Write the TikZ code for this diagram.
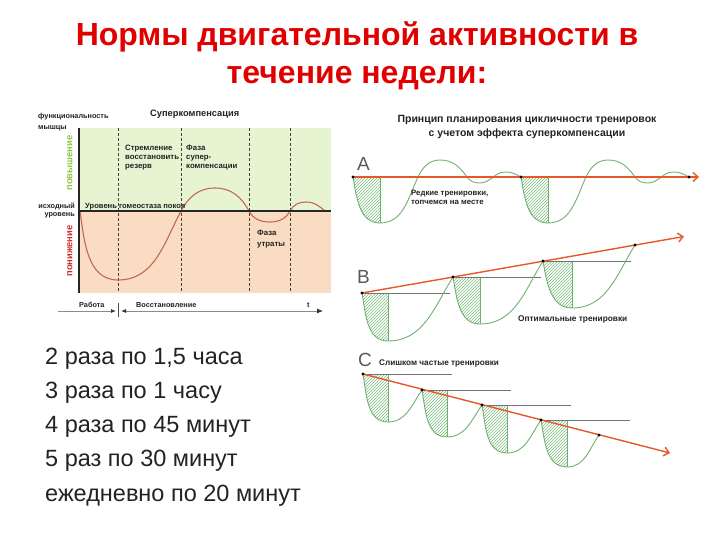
\documentclass[tikz,border=0pt]{standalone}
\usepackage{fontspec}
\setmainfont{Liberation Sans}
\usetikzlibrary{patterns,arrows.meta}
\definecolor{titlered}{HTML}{E00000}
\definecolor{bggreen}{HTML}{E6F4D2}
\definecolor{bgpeach}{HTML}{F9DCC2}
\definecolor{curvered}{HTML}{C4665A}
\definecolor{upgreen}{HTML}{8CC63F}
\definecolor{downred}{HTML}{CF2E2E}
\definecolor{gcurve}{HTML}{6FB06F}
\definecolor{hatchg}{HTML}{7DB87D}
\definecolor{orangeline}{HTML}{E8572A}
\definecolor{txt}{HTML}{222222}
\begin{document}
\begin{tikzpicture}[x=1pt,y=1pt,
  title/.style={font=\fontsize{32}{36}\selectfont\bfseries, text=titlered, inner sep=0pt, anchor=base},
  item/.style={font=\fontsize{23.5}{27}\selectfont, text=txt, inner sep=0pt, anchor=base west},
  small/.style={font=\fontsize{7.3}{9}\selectfont\bfseries, text=txt, inner sep=0pt, anchor=base west},
  mid/.style={font=\fontsize{9.3}{11}\selectfont\bfseries, text=txt, inner sep=0pt, anchor=base},
  letter/.style={font=\fontsize{19}{22}\selectfont, text=black!65, inner sep=0pt, anchor=base west},
  dashline/.style={densely dashed, black!75, line width=0.6pt},
  gline/.style={gcurve, line width=0.9pt},
  hatch/.style={pattern=north east lines, pattern color=hatchg},
  grayl/.style={black!55, line width=0.5pt},
  oline/.style={orangeline, line width=1.4pt},
  dot/.style={fill=black}
]
\useasboundingbox (0,0) rectangle (720,-540);

% ---------- title ----------
\node[title] (title1) at (357,-46) {Нормы двигательной активности в};
\node[title] (title2) at (357,-84) {течение недели:};

% ---------- list ----------
\node[item] (i1) at (45,-364) {2 раза по 1,5 часа};
\node[item] (i2) at (45,-398) {3 раза по 1 часу};
\node[item] (i3) at (45,-432) {4 раза по 45 минут};
\node[item] (i4) at (45,-466) {5 раз по 30 минут};
\node[item] (i5) at (45,-501) {ежедневно по 20 минут};

% ---------- left chart ----------
\fill[bggreen] (79,-128) rectangle (331,-211);
\fill[bgpeach] (79,-211) rectangle (331,-293);
\foreach \x in {118,181,249,290} \draw[dashline] (\x,-128) -- (\x,-293);
\draw[curvered, line width=1.1pt] (80,-211) to[out=-82,in=180] (118,-280) to[out=0,in=-118] (181,-211)
  to[out=62,in=180] (215,-188) to[out=0,in=118] (249,-211) to[out=-62,in=180] (270,-222)
  to[out=0,in=-118] (290,-211) to[out=62,in=180] (306,-202) to[out=0,in=140] (325,-211);
\draw[black!85, line width=2.4pt] (79,-211) -- (331,-211);
\draw[black!85, line width=2.4pt] (79,-128) -- (79,-293);

\node[small] (f1) at (38,-119) {функциональность};
\node[small] (f2) at (38,-130) {мышцы};
\node[mid, anchor=base west] (sk) at (150,-117) {Суперкомпенсация};
\node[small, font=\fontsize{7.8}{9}\selectfont\bfseries] (s1) at (125,-151) {Стремление};
\node[small, font=\fontsize{7.8}{9}\selectfont\bfseries] (s2) at (125,-160) {восстановить};
\node[small, font=\fontsize{7.8}{9}\selectfont\bfseries] (s3) at (125,-169) {резерв};
\node[small, font=\fontsize{7.8}{9}\selectfont\bfseries] (p1) at (186,-151) {Фаза};
\node[small, font=\fontsize{7.8}{9}\selectfont\bfseries] (p2) at (186,-160) {супер-};
\node[small, font=\fontsize{7.8}{9}\selectfont\bfseries] (p3) at (186,-169) {компенсации};
\node[small, font=\fontsize{7.8}{9}\selectfont\bfseries] (u1) at (257,-236) {Фаза};
\node[small, font=\fontsize{7.8}{9}\selectfont\bfseries] (u2) at (257,-246) {утраты};
\node[small, font=\fontsize{7.6}{9}\selectfont\bfseries] (hom) at (85,-208) {Уровень гомеостаза покоя};
\node[small, anchor=base east] (ish1) at (75,-209) {исходный};
\node[small, anchor=base east] (ish2) at (75,-217) {уровень};
\node[small, font=\fontsize{9.4}{10}\selectfont\bfseries, text=upgreen, rotate=90, anchor=center] (up) at (70,-163) {повышение};
\node[small, font=\fontsize{9.4}{10}\selectfont\bfseries, text=downred, rotate=90, anchor=center] (down) at (70,-251) {понижение};

\node[small] (rab) at (79,-307) {Работа};
\node[small] (vos) at (136,-307) {Восстановление};
\node[small] (tt) at (307,-307) {t};
\coordinate (ax0) at (58,-311);
\coordinate (axm1) at (116,-311);
\coordinate (axm2) at (121,-311);
\coordinate (ax1) at (323,-311);
\draw[black!45, line width=0.8pt, -{Latex[length=5pt,width=4pt,black!80]}] (ax0) -- (axm1);
\draw[black!45, line width=0.8pt, {Latex[length=5pt,width=4pt,black!80]}-{Latex[length=6pt,width=5pt,black!80]}] (axm2) -- (ax1);
\draw[black!70, line width=0.6pt] (118.5,-303) -- (118.5,-317);

% ---------- right chart ----------
\node[mid, font=\fontsize{10.5}{12}\selectfont\bfseries] (rt1) at (527,-123) {Принцип планирования цикличности тренировок};
\node[mid, font=\fontsize{10.5}{12}\selectfont\bfseries] (rt2) at (527,-137) {с учетом эффекта суперкомпенсации};

% A
\node[letter] (la) at (357,-171) {A};
\foreach \s in {0,168} {
  \begin{scope}[xshift=\s pt]
    \fill[hatch] (353,-177) to[out=-80,in=180] (380,-223) -- (380,-177) -- cycle;
    \draw[gline] (380,-177) -- (380,-223);
    \draw[gline] (353,-177) to[out=-80,in=180] (380,-223) to[out=0,in=-115] (418,-177)
      to[out=65,in=180] (440,-160) to[out=0,in=125] (467,-177) to[out=-55,in=180] (480,-183)
      to[out=0,in=180] (505,-172) to[out=0,in=150] (521,-177);
  \end{scope}
}
\coordinate (a0) at (353,-177);
\coordinate (a1) at (521,-177);
\coordinate (a2) at (689,-177);
\coordinate (aend) at (699,-177);
\draw[oline, -{Straight Barb[length=5pt,width=9pt]}] (a0) -- (aend);
\foreach \p in {a0,a1,a2} \fill[dot] (\p) circle (1.6);
\node[small, font=\fontsize{7.8}{9}\selectfont\bfseries] (ra1) at (411,-196) {Редкие тренировки,};
\node[small, font=\fontsize{7.8}{9}\selectfont\bfseries] (ra2) at (411,-205) {топчемся на месте};

% B
\node[letter] (lb) at (357,-283) {B};
\foreach \sx/\sy/\mx/\my/\ex/\ey in {362/293/388/341/453/277, 453/277/480/324/543/261, 543/261/572/308/635/245} {
  \fill[hatch] (\sx,-\sy) to[out=-80,in=180] (\mx,-\my) -- (\mx,-\sy) -- cycle;
  \draw[gline] (\mx,-\sy) -- (\mx,-\my);
  \draw[grayl] (\sx,-\sy) -- ++(88,0);
  \draw[gline] (\sx,-\sy) to[out=-80,in=180] (\mx,-\my) to[out=0,in=-122] (\ex,-\ey);
}
\coordinate (b0) at (362,-293);
\coordinate (b1) at (453,-277);
\coordinate (b2) at (543,-261);
\coordinate (b3) at (635,-245);
\coordinate (bend) at (684,-236.5);
\draw[oline, -{Straight Barb[length=5pt,width=9pt]}] (b0) -- (bend);
\foreach \p in {b0,b1,b2,b3} \fill[dot] (\p) circle (1.6);
\node[small, font=\fontsize{8.3}{9}\selectfont\bfseries] (opt) at (518,-321) {Оптимальные тренировки};

% C
\node[letter] (lc) at (358,-366) {C};
\node[small, font=\fontsize{8.2}{9}\selectfont\bfseries] (often) at (379,-365) {Слишком частые тренировки};
\foreach \sx/\sy/\mx/\my/\ex/\ey in {363/374/388/422/422/390, 422/390/447/437/482/405, 482/405/507/453/541/420, 541/420/567/467/599/435} {
  \fill[hatch] (\sx,-\sy) to[out=-80,in=180] (\mx,-\my) -- (\mx,-\sy) -- cycle;
  \draw[gline] (\mx,-\sy) -- (\mx,-\my);
  \draw[grayl] (\sx,-\sy) -- ++(89,0);
  \draw[gline] (\sx,-\sy) to[out=-80,in=180] (\mx,-\my) to[out=0,in=-125] (\ex,-\ey);
}
\coordinate (c0) at (363,-374);
\coordinate (c1) at (422,-390);
\coordinate (c2) at (482,-405);
\coordinate (c3) at (541,-420);
\coordinate (c4) at (599,-435);
\coordinate (cend) at (670,-453);
\draw[oline, -{Straight Barb[length=5pt,width=9pt]}] (c0) -- (cend);
\foreach \p in {c0,c1,c2,c3,c4} \fill[dot] (\p) circle (1.6);
\end{tikzpicture}
\end{document}
